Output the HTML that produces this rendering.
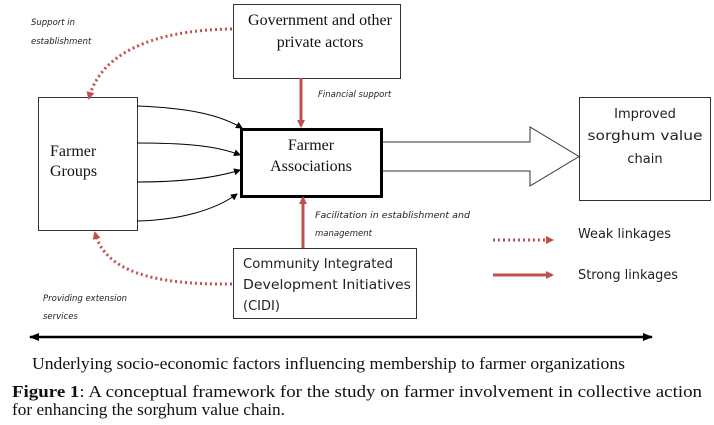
<!DOCTYPE html>
<html><head><meta charset="utf-8"><style>
body{margin:0;background:#fff;width:714px;height:425px;overflow:hidden;position:relative}
svg{position:absolute;left:0;top:0}
</style></head><body>
<svg width="714" height="425" viewBox="0 0 714 425" xmlns="http://www.w3.org/2000/svg">
<defs>
<marker id="rh" markerWidth="8" markerHeight="8" refX="6" refY="4" orient="auto" markerUnits="userSpaceOnUse"><path d="M0,0 L8,4 L0,8 z" fill="#c0504d"/></marker>
<marker id="bh" markerWidth="7" markerHeight="7" refX="6" refY="3.5" orient="auto" markerUnits="userSpaceOnUse"><path d="M0,0 L7,3.5 L0,7 z" fill="#000"/></marker>
<marker id="bh2" markerWidth="10" markerHeight="8" refX="9" refY="4" orient="auto-start-reverse" markerUnits="userSpaceOnUse"><path d="M0,0 L10,4 L0,8 z" fill="#000"/></marker>
</defs>
<g fill="none" stroke="#333" stroke-width="1">
<rect x="233.5" y="4.5" width="167" height="74"/>
<rect x="38.5" y="97.5" width="99" height="133"/>
<rect x="579.5" y="97.5" width="131" height="103"/>
<rect x="233.5" y="248.5" width="183" height="70"/>
</g>
<rect x="241.5" y="129.5" width="140" height="67" fill="none" stroke="#000" stroke-width="3"/>
<path d="M383,142 H530 V127 L579,156.5 L530,186 V171 H383" fill="#fff" stroke="#333" stroke-width="1"/>
<g fill="none" stroke="#000" stroke-width="1">
<path d="M137,106 C190,108 220,115 242,128" marker-end="url(#bh)"/>
<path d="M137,143 C180,143 215,145 240,155" marker-end="url(#bh)"/>
<path d="M137,182 C180,182 215,178 240,170" marker-end="url(#bh)"/>
<path d="M137,221 C180,220 215,210 237,194" marker-end="url(#bh)"/>
</g>
<g stroke="#c0504d" stroke-width="3" fill="none">
<line x1="301" y1="78" x2="301" y2="126" marker-end="url(#rh)"/>
<line x1="303" y1="248" x2="303" y2="198" marker-end="url(#rh)"/>
<line x1="493" y1="275" x2="552" y2="275" marker-end="url(#rh)"/>
</g>
<g stroke="#c0504d" stroke-width="3" fill="none" stroke-dasharray="2 3">
<path d="M232,29 C150,30 100,55 89,98" marker-end="url(#rh)"/>
<path d="M232,284 C150,285 105,270 95,233" marker-end="url(#rh)"/>
<line x1="493" y1="240" x2="552" y2="240" marker-end="url(#rh)"/>
</g>
<line x1="30" y1="337" x2="652" y2="337" stroke="#000" stroke-width="2.5" marker-start="url(#bh2)" marker-end="url(#bh2)"/>
<g font-family="Liberation Serif, serif" font-size="16" fill="#111" text-anchor="middle">
<text x="320" y="25">Government and other</text>
<text x="320" y="47">private actors</text>
<text x="311" y="150">Farmer</text>
<text x="311" y="171">Associations</text>
</g>
<g font-family="Liberation Serif, serif" font-size="16" fill="#111">
<text x="50" y="156">Farmer</text>
<text x="50" y="176">Groups</text>
</g>
<g font-family="DejaVu Sans, sans-serif" font-size="13" fill="#222">
<text x="645" y="118" text-anchor="middle">Improved</text>
<text x="645" y="140" text-anchor="middle" textLength="115" lengthAdjust="spacingAndGlyphs">sorghum value</text>
<text x="645" y="163" text-anchor="middle">chain</text>
<text x="243" y="268" textLength="150" lengthAdjust="spacingAndGlyphs">Community Integrated</text>
<text x="243" y="289" textLength="168" lengthAdjust="spacingAndGlyphs">Development Initiatives</text>
<text x="243" y="310">(CIDI)</text>
<text x="578" y="238" textLength="93" lengthAdjust="spacingAndGlyphs">Weak linkages</text>
<text x="578" y="279" textLength="100" lengthAdjust="spacingAndGlyphs">Strong linkages</text>
</g>
<g font-family="DejaVu Sans, sans-serif" font-size="8.5" font-style="italic" fill="#222">
<text x="31" y="25">Support in</text>
<text x="31" y="44">establishment</text>
<text x="318" y="97">Financial support</text>
<text x="315" y="218" textLength="155" lengthAdjust="spacingAndGlyphs">Facilitation in establishment and</text>
<text x="315" y="236">management</text>
<text x="43" y="301">Providing extension</text>
<text x="43" y="319">services</text>
</g>
<text x="32" y="369" font-family="Liberation Serif, serif" font-size="17" fill="#111" textLength="593" lengthAdjust="spacingAndGlyphs">Underlying socio-economic factors influencing membership to farmer organizations</text>
<g font-family="Liberation Serif, serif" font-size="17" fill="#111">
<text x="12" y="397" textLength="690" lengthAdjust="spacingAndGlyphs"><tspan font-weight="bold">Figure 1</tspan>: A conceptual framework for the study on farmer involvement in collective action</text>
<text x="12" y="415" textLength="273" lengthAdjust="spacingAndGlyphs">for enhancing the sorghum value chain.</text>
</g>
</svg>
</body></html>
